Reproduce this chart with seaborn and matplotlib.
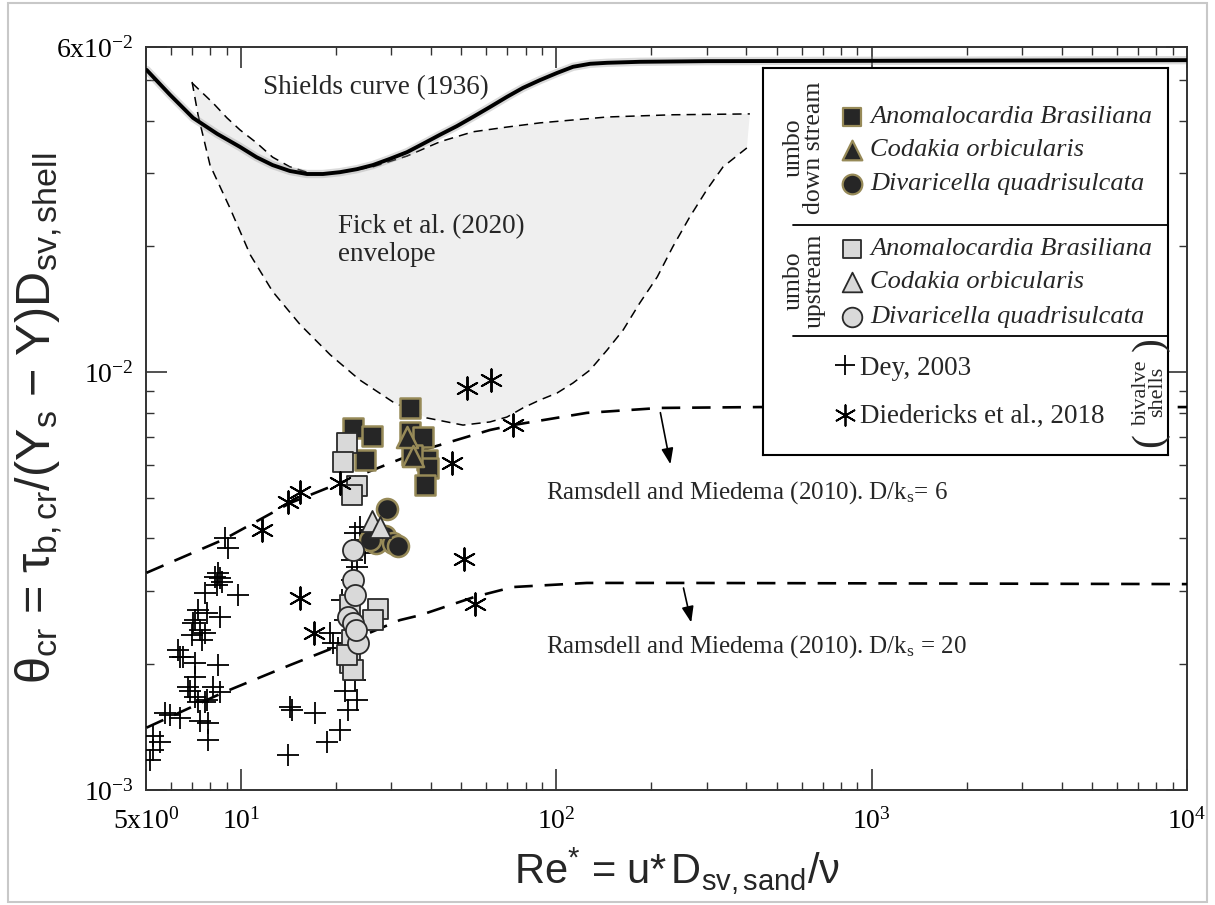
import numpy as np
import pandas as pd
import matplotlib
matplotlib.use("Agg")
import matplotlib.pyplot as plt
import seaborn as sns
from matplotlib import font_manager as fm
from matplotlib.patches import Rectangle

# ---------------- data ----------------
shields_re = [5.02, 5.96, 7.05, 8.40, 9.93, 11.2, 12.6, 14.3, 16.2, 18.2, 20.6, 23.3, 26.2, 29.7, 33.6, 37.8,
              42.8, 48.4, 54.4, 61.6, 69.8, 78.4, 88.8, 100.5, 113, 128, 145, 184, 300, 1000, 10000]
shields_theta = [0.0529, 0.0461, 0.0406, 0.0372, 0.0346, 0.0327, 0.0313, 0.0303, 0.0298, 0.0298, 0.0301,
                 0.0306, 0.0313, 0.0324, 0.0336, 0.0352, 0.0370, 0.0388, 0.0408, 0.0431, 0.0456, 0.0479,
                 0.0500, 0.0520, 0.0538, 0.0547, 0.0550, 0.0553, 0.0555, 0.0556, 0.0558]

env_up_re = [7.0, 8.15, 9.03, 9.93, 11.2, 12.6, 14.3, 16.9, 20.6, 26.2, 33.6, 42.8, 54.4, 69.8, 88.8, 145, 234, 411]
env_up_theta = [0.0492, 0.0441, 0.0406, 0.0380, 0.0354, 0.0327, 0.0310, 0.0298, 0.0300, 0.0310, 0.0329,
                0.0356, 0.0376, 0.0386, 0.0395, 0.0408, 0.0413, 0.0415]
env_low_re = [7.0, 7.31, 7.98, 9.23, 10.7, 12.6, 15.4, 19.2, 23.8, 30.3, 38.9, 50.6, 61.6, 69.8, 78.4, 88.8,
              100.5, 113, 128, 145, 163, 184, 209, 234, 265, 300, 338, 402]
env_low_theta = [0.0495, 0.0413, 0.0313, 0.0247, 0.0191, 0.0156, 0.0130, 0.0110, 0.00958, 0.00849, 0.00777,
                 0.00747, 0.00760, 0.00781, 0.00821, 0.00858, 0.00891, 0.00942, 0.01012, 0.0113, 0.01262,
                 0.01464, 0.0169, 0.01994, 0.02352, 0.0273, 0.031, 0.0344]

rm6_re = [5.02, 8.77, 14.3, 20.6, 26.2, 37.8, 61.6, 72.9, 125, 213, 442, 10000]
rm6_theta = [0.00331, 0.00397, 0.00486, 0.00543, 0.00583, 0.00651, 0.00727, 0.00747, 0.00799, 0.00821, 0.00825, 0.00825]
rm20_re = [5.02, 8.77, 14.3, 20.6, 31.9, 37.0, 55.2, 72.9, 125, 260, 10000]
rm20_theta = [0.00141, 0.00171, 0.00199, 0.00222, 0.00255, 0.00262, 0.00290, 0.00306, 0.00313, 0.00313, 0.00311]

dey_re = [5.15, 5.26, 5.54, 5.26, 5.74, 5.96, 6.41, 6.32, 6.41, 6.55, 6.80, 6.90, 7.00, 7.05, 7.15, 7.15, 7.15,
          7.15, 7.31, 7.31, 7.42, 7.42, 7.52, 7.69, 7.69, 7.69, 7.81, 7.81, 7.86, 7.86, 8.15, 8.27, 8.40, 8.46,
          8.58, 8.58, 8.58, 8.46, 8.71, 8.90, 9.10, 9.79, 14.1, 14.3, 14.5, 17.2, 18.7, 20.6, 21.9, 19.2, 19.6,
          20.3, 20.9, 21.4, 23.0, 23.8, 24.2, 23.3, 22.5, 21.7, 22.2, 23.0, 21.4, 23.3, 22.5, 24.7]
dey_theta = [0.00118, 0.00125, 0.00130, 0.00135, 0.00153, 0.00151, 0.00149, 0.00216, 0.00208, 0.00208, 0.00176,
             0.00173, 0.00235, 0.00251, 0.00255, 0.00201, 0.00186, 0.00167, 0.00270, 0.00162, 0.00242, 0.00146,
             0.00229, 0.00296, 0.00238, 0.00162, 0.00265, 0.00164, 0.00145, 0.00132, 0.00176, 0.00324, 0.00309,
             0.00331, 0.00322, 0.00259, 0.00172, 0.00199, 0.00315, 0.00401, 0.00380, 0.00293, 0.00121, 0.00158,
             0.00155, 0.00153, 0.00130, 0.00139, 0.00155, 0.00238, 0.00225, 0.00219, 0.00285, 0.00255, 0.00412,
             0.00426, 0.00397, 0.00342, 0.00318, 0.00216, 0.00199, 0.00183, 0.00173, 0.00164, 0.00355, 0.00369]

died_re = [11.7, 14.1, 15.4, 20.6, 15.4, 17.0, 46.7, 52.1, 62.0, 72.9, 50.9, 55.2]
died_theta = [0.00419, 0.00489, 0.00517, 0.00543, 0.00288, 0.00238, 0.00606, 0.00917, 0.00958, 0.00747, 0.00357, 0.00279]

down_anom_re = [22.7, 26.0, 24.7, 34.4, 34.4, 37.8, 38.9, 39.2, 38.3, 34.9]
down_anom_theta = [0.00735, 0.00703, 0.00617, 0.00821, 0.00719, 0.00699, 0.00617, 0.00590, 0.00537, 0.00634]
down_coda_re = [33.5, 35.1]
down_coda_theta = [0.00699, 0.00630]
down_diva_re = [29.0, 28.6, 26.8, 30.3, 31.5, 25.7]
down_diva_theta = [0.00471, 0.00405, 0.00390, 0.00390, 0.00384, 0.00397]

up_anom_re = [21.7, 21.1, 23.3, 22.5, 27.2, 26.2, 22.2, 22.5, 22.2, 22.7, 21.7]
up_anom_theta = [0.00677, 0.00610, 0.00534, 0.00508, 0.00271, 0.00255, 0.00277, 0.00229, 0.00201, 0.00194, 0.00210]
up_coda_re = [26.0, 27.6]
up_coda_theta = [0.00440, 0.00426]
up_diva_re = [22.7, 22.7, 23.0, 21.9, 22.7, 23.5, 23.2]
up_diva_theta = [0.00375, 0.00318, 0.00293, 0.00259, 0.00251, 0.00225, 0.00242]

x_ticks = [5, 10, 100, 1000, 10000]
x_ticklabels = [r"$\mathrm{5x10^{0}}$", r"$\mathrm{10^{1}}$", r"$\mathrm{10^{2}}$", r"$\mathrm{10^{3}}$", r"$\mathrm{10^{4}}$"]
y_ticks = [0.001, 0.01, 0.06]
y_ticklabels = [r"$\mathrm{10^{-3}}$", r"$\mathrm{10^{-2}}$", r"$\mathrm{6x10^{-2}}$"]

species = ["Anomalocardia Brasiliana", "Codakia orbicularis", "Divaricella quadrisulcata"]

# ---------------- style ----------------
sns.set_theme(style="ticks")


def has_font(name):
    try:
        fm.findfont(fm.FontProperties(family=name), fallback_to_default=False)
        return True
    except Exception:
        return False


narrow = "Liberation Sans Narrow" if has_font("Liberation Sans Narrow") else "Liberation Sans"
plt.rcParams["font.family"] = ["Liberation Serif", "DejaVu Serif"]
plt.rcParams["mathtext.fontset"] = "custom"
plt.rcParams["mathtext.rm"] = "Liberation Serif"
plt.rcParams["mathtext.it"] = "Liberation Serif:italic"
plt.rcParams["mathtext.bf"] = "Liberation Serif:bold"
plt.rcParams["mathtext.sf"] = narrow
plt.rcParams["axes.linewidth"] = 1.4

W, H = 1215, 905
fig = plt.figure(figsize=(W / 100, H / 100), dpi=100)
ax = fig.add_axes([146 / W, 1 - 790 / H, (1187 - 146) / W, (790 - 47) / H])
ax.set_xscale("log")
ax.set_yscale("log")
ax.set_xlim(5, 1e4)
ax.set_ylim(1e-3, 6e-2)

# envelope
env_x = list(env_up_re) + list(env_low_re[::-1])
env_y = list(env_up_theta) + list(env_low_theta[::-1])
ax.fill(env_x, env_y, color="#efefef", zorder=1, lw=0)
for xs, ys in [(env_up_re, env_up_theta), (env_low_re, env_low_theta)]:
    sns.lineplot(x=xs, y=ys, ax=ax, sort=False, estimator=None, color="black", lw=1.1,
                 linestyle=(0, (6, 4)), zorder=2)

# Shields curve with soft shadow
sns.lineplot(x=shields_re, y=shields_theta, ax=ax, sort=False, estimator=None, color="#999999",
             lw=6, alpha=0.35, zorder=2)
sns.lineplot(x=shields_re, y=shields_theta, ax=ax, sort=False, estimator=None, color="black",
             lw=2.8, zorder=3)

# Ramsdell & Miedema
for xs, ys in [(rm6_re, rm6_theta), (rm20_re, rm20_theta)]:
    sns.lineplot(x=xs, y=ys, ax=ax, sort=False, estimator=None, color="black", lw=1.9,
                 linestyle=(0, (7, 4.5)), zorder=3)

# scatter series
sns.scatterplot(x=dey_re, y=dey_theta, ax=ax, marker="+", color="black", s=230, linewidth=1.3, zorder=4)
dark_kw = dict(color="#262626", edgecolor="#978a58", linewidth=1.8, zorder=5)
sns.scatterplot(x=down_anom_re, y=down_anom_theta, ax=ax, marker="s", s=200, **dark_kw)
sns.scatterplot(x=down_coda_re, y=down_coda_theta, ax=ax, marker="^", s=230, **dark_kw)
sns.scatterplot(x=down_diva_re, y=down_diva_theta, ax=ax, marker="o", s=230, **dark_kw)
light_kw = dict(color="#d9d9d9", edgecolor="#2a2a2a", linewidth=1.3, zorder=6)
sns.scatterplot(x=up_anom_re, y=up_anom_theta, ax=ax, marker="s", s=200, **light_kw)
sns.scatterplot(x=up_coda_re, y=up_coda_theta, ax=ax, marker="^", s=230, **light_kw)
sns.scatterplot(x=up_diva_re, y=up_diva_theta, ax=ax, marker="o", s=230, **light_kw)
sns.scatterplot(x=died_re, y=died_theta, ax=ax, marker=(6, 2, 0), color="black", s=260, linewidth=1.4, zorder=7)

# annotations
ax.text(11.75, 0.0479, "Shields curve (1936)", fontsize=19.5, va="center", ha="left", zorder=8)
ax.text(20.3, 0.0206, "Fick et al. (2020)\nenvelope", fontsize=19.5, va="center", ha="left",
        linespacing=1.15, zorder=8)
ax.text(92.7, 0.00514, r"Ramsdell and Miedema (2010). D/k$_\mathrm{s}$= 6", fontsize=18,
        va="center", ha="left", zorder=8)
ax.text(92.7, 0.00221, r"Ramsdell and Miedema (2010). D/k$_\mathrm{s}$ = 20", fontsize=18,
        va="center", ha="left", zorder=8)
arrow_kw = dict(arrowstyle="-|>,head_length=0.8,head_width=0.3", color="black", lw=1.2)
ax.annotate("", xy=(231, 0.00593), xytext=(213, 0.00812), arrowprops=arrow_kw, zorder=8)
ax.annotate("", xy=(269, 0.00248), xytext=(252, 0.00309), arrowprops=arrow_kw, zorder=8)

# axes ticks
ax.set_xticks(x_ticks)
ax.set_xticklabels(x_ticklabels)
ax.set_yticks(y_ticks)
ax.set_yticklabels(y_ticklabels)
ax.xaxis.set_minor_locator(matplotlib.ticker.LogLocator(base=10, subs=np.arange(2, 10)))
ax.yaxis.set_minor_locator(matplotlib.ticker.LogLocator(base=10, subs=np.arange(2, 10)))
ax.xaxis.set_minor_formatter(matplotlib.ticker.NullFormatter())
ax.yaxis.set_minor_formatter(matplotlib.ticker.NullFormatter())
ax.tick_params(which="both", direction="in", top=True, right=True, colors="#333333", labelcolor="black")
ax.tick_params(which="major", length=15, width=1.2, labelsize=20)
ax.tick_params(which="minor", length=6, width=1.0)
ax.tick_params(axis="x", which="major", pad=13)
ax.tick_params(axis="y", which="major", pad=9)
for sp in ax.spines.values():
    sp.set_color("#333333")

ax.set_xlabel(r"$\mathsf{Re^{*}\,=\,u{*}\,D_{sv,sand}/\nu}$", fontsize=30)
ax.set_ylabel(r"$\mathsf{\theta_{cr}\,=\,\tau_{b,cr}/(\Upsilon_{s}\,-\,\Upsilon)D_{sv,shell}}$", fontsize=35)
ax.xaxis.set_label_coords(0.51, -0.075)
ax.yaxis.set_label_coords(-0.078, 0.5)

# ---------------- custom legend box ----------------
lg = fig.add_axes([763 / W, 1 - 455 / H, (1168 - 763) / W, (455 - 68) / H])
lg.set_xlim(763, 1168)
lg.set_ylim(455, 68)
lg.set_xticks([])
lg.set_yticks([])
lg.set_facecolor("white")
for sp in lg.spines.values():
    sp.set_color("black")
    sp.set_linewidth(1.5)

rows_down = [117, 150, 184]
rows_up = [249, 282, 317]
markers = ["s", "^", "o"]
for yy, mk, name in zip(rows_down, markers, species):
    lg.scatter([852], [yy], marker=mk, s=180 if mk == "s" else 200, color="#262626", edgecolor="#978a58",
               linewidth=1.6, clip_on=False)
    lg.text(870, yy, name, fontsize=19, style="italic", va="center", ha="left")
for yy, mk, name in zip(rows_up, markers, species):
    lg.scatter([852], [yy], marker=mk, s=180 if mk == "s" else 200, color="#d9d9d9", edgecolor="#2a2a2a",
               linewidth=1.3, clip_on=False)
    lg.text(870, yy, name, fontsize=19, style="italic", va="center", ha="left")
lg.plot([793, 1170], [225, 225], color="black", lw=1.3)
lg.plot([793, 1170], [336, 336], color="black", lw=1.3)
lg.text(804, 148, "umbo\ndown stream", rotation=90, fontsize=18.5, ha="center", va="center",
        multialignment="center", linespacing=0.9)
lg.text(804, 281, "umbo\nupstream", rotation=90, fontsize=18.5, ha="center", va="center",
        multialignment="center", linespacing=0.9)
lg.scatter([845], [365], marker="+", s=200, color="black", linewidth=1.3)
lg.text(860, 368, "Dey, 2003", fontsize=19.5, va="center", ha="left")
lg.scatter([845], [415], marker=(6, 2, 0), s=220, color="black", linewidth=1.3)
lg.text(860, 416, "Diedericks et al., 2018", fontsize=19.5, va="center", ha="left")
lg.text(1150, 392, "bivalve\nshells", rotation=90, fontsize=16, ha="center", va="center",
        multialignment="center", linespacing=0.8)
lg.text(1150, 440, "(", rotation=90, fontsize=30, ha="center", va="center")
lg.text(1150, 344, ")", rotation=90, fontsize=30, ha="center", va="center")

# outer frame
fig.patches.append(Rectangle((8 / W, 3 / H), (1207 - 8) / W, (902 - 3) / H, transform=fig.transFigure,
                             fill=False, edgecolor="#c8c8c8", lw=1.5))

fig.savefig("out.png", dpi=100)
